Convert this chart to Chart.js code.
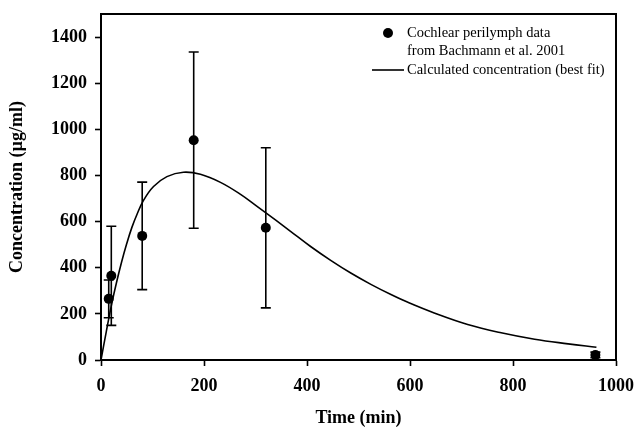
<!DOCTYPE html>
<html>
<head>
<meta charset="utf-8">
<script src="https://cdn.jsdelivr.net/npm/chart.js@4/dist/chart.umd.min.js"></script>
<style>
html,body{margin:0;padding:0;background:#fff;}
#wrap{width:636px;height:427px;position:relative;}
</style>
</head>
<body>
<div id="wrap"><canvas id="c" width="636" height="427"></canvas></div>
<script>
// Measured data (Bachmann et al. 2001)
const timeData = [15, 20, 80, 180, 320, 960];
const concData = [265, 365, 538, 953, 573, 22];
const errData  = [82, 215, 233, 382, 347, 12];

// Best-fit curve
const fitTime = [0, 10, 20, 30, 40, 50, 60, 70, 82, 102, 128, 160, 193, 232, 271, 303, 340, 368, 407, 446, 485, 524, 563, 598, 647, 712, 777, 842, 907, 962];
const fitConc = [0, 120, 235, 335, 425, 505, 575, 632, 690, 752, 795, 814, 805, 770, 718, 666, 605, 558, 492, 432, 377, 328, 284, 248, 204, 154, 118, 90, 70, 55];

const xTicks = [0, 200, 400, 600, 800, 1000];
const yTicks = [0, 200, 400, 600, 800, 1000, 1200, 1400];

const legendLabels = ['Cochlear perilymph data', 'from Bachmann et al. 2001', 'Calculated concentration (best fit)'];

const serif = "'Liberation Serif', 'Times New Roman', serif";

const errorBars = {
  id: 'errorBars',
  beforeDatasetsDraw(chart) {
    const ctx = chart.ctx, xs = chart.scales.x, ys = chart.scales.y;
    ctx.save();
    ctx.strokeStyle = '#000';
    ctx.lineWidth = 1.6;
    for (let i = 0; i < timeData.length; i++) {
      const px = xs.getPixelForValue(timeData[i]);
      const top = ys.getPixelForValue(concData[i] + errData[i]);
      const bot = ys.getPixelForValue(concData[i] - errData[i]);
      ctx.beginPath();
      ctx.moveTo(px, top); ctx.lineTo(px, bot);
      ctx.moveTo(px - 5, top); ctx.lineTo(px + 5, top);
      ctx.moveTo(px - 5, bot); ctx.lineTo(px + 5, bot);
      ctx.stroke();
    }
    ctx.restore();
  }
};

const frameAndLegend = {
  id: 'frameAndLegend',
  afterDraw(chart) {
    const ctx = chart.ctx, a = chart.chartArea;
    ctx.save();
    ctx.strokeStyle = '#000';
    ctx.lineWidth = 2;
    ctx.beginPath();
    ctx.moveTo(a.left, a.top); ctx.lineTo(a.right, a.top); ctx.lineTo(a.right, a.bottom);
    ctx.stroke();
    // legend
    ctx.fillStyle = '#000';
    ctx.beginPath();
    ctx.arc(388, 33, 5, 0, Math.PI * 2);
    ctx.fill();
    ctx.lineWidth = 1.6;
    ctx.beginPath();
    ctx.moveTo(372, 70); ctx.lineTo(404, 70);
    ctx.stroke();
    ctx.font = "14.5px " + serif;
    ctx.textBaseline = 'middle';
    ctx.textAlign = 'left';
    ctx.fillText(legendLabels[0], 407, 33);
    ctx.fillText(legendLabels[1], 407, 51);
    ctx.fillText(legendLabels[2], 407, 70);
    ctx.restore();
  }
};

new Chart(document.getElementById('c'), {
  type: 'scatter',
  data: {
    datasets: [
      {
        label: 'Calculated concentration (best fit)',
        data: fitTime.map((t, i) => ({x: t, y: fitConc[i]})),
        showLine: true,
        borderColor: '#000',
        borderWidth: 1.6,
        pointRadius: 0,
        tension: 0.4,
        fill: false,
        order: 2
      },
      {
        label: 'Cochlear perilymph data',
        data: timeData.map((t, i) => ({x: t, y: concData[i]})),
        pointRadius: 5,
        pointBackgroundColor: '#000',
        pointBorderColor: '#000',
        borderWidth: 0,
        clip: false,
        order: 1
      }
    ]
  },
  options: {
    responsive: false,
    animation: false,
    devicePixelRatio: 1,
    layout: { padding: { top: 14, right: 20, left: 0, bottom: 0 } },
    plugins: { legend: { display: false }, tooltip: { enabled: false } },
    scales: {
      x: {
        type: 'linear',
        min: 0, max: 1000,
        afterFit(s) { s.height = 67; s.paddingLeft = 0; s.paddingRight = 0; },
        afterBuildTicks(s) { s.ticks = xTicks.map(v => ({value: v})); },
        grid: { drawOnChartArea: false, tickLength: 6, tickColor: '#000', tickWidth: 1.6 },
        border: { display: true, color: '#000', width: 2 },
        ticks: { color: '#000', padding: 10, maxRotation: 0, callback: v => String(v), font: { family: serif, size: 18, weight: 'bold' } },
        title: { display: true, text: 'Time (min)', color: '#000', font: { family: serif, size: 18, weight: 'bold', lineHeight: 1 }, padding: { top: 0, bottom: 0 } }
      },
      y: {
        type: 'linear',
        min: 0, max: 1500,
        afterFit(s) { s.width = 101; s.paddingTop = 0; s.paddingBottom = 0; },
        afterBuildTicks(s) { s.ticks = yTicks.map(v => ({value: v})); },
        grid: { drawOnChartArea: false, tickLength: 6, tickColor: '#000', tickWidth: 1.6 },
        border: { display: true, color: '#000', width: 2 },
        ticks: { color: '#000', padding: 8, callback: v => String(v), font: { family: serif, size: 18, weight: 'bold' } },
        title: { display: true, text: 'Concentration (µg/ml)', color: '#000', font: { family: serif, size: 18, weight: 'bold', lineHeight: 1 }, padding: { top: 8.5, bottom: 0 } }
      }
    }
  },
  plugins: [errorBars, frameAndLegend]
});
</script>
</body>
</html>
